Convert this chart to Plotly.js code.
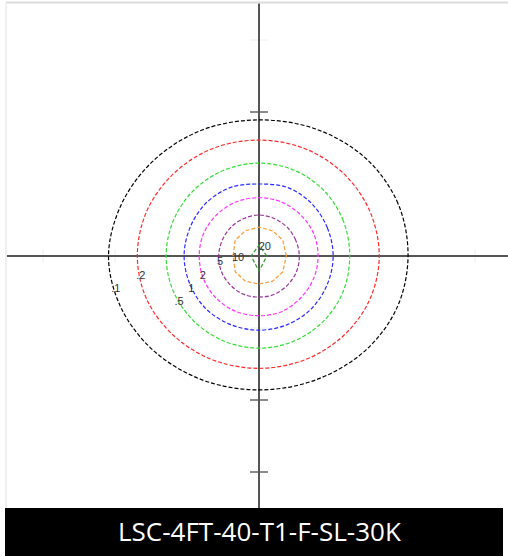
<!DOCTYPE html>
<html>
<head>
<meta charset="utf-8">
<script src="https://cdn.plot.ly/plotly-3.0.1.min.js"></script>
<style>html,body{margin:0;padding:0;background:#fff;}#chart{width:508px;height:557px;}</style>
</head>
<body>
<div id="chart"></div>
<script>
// Isofootcandle levels and colours
const levels = ['.1', '.2', '.5', '1', '2', '5', '10', '20'];
const colors = ['#000000', '#ff2a2a', '#33dd33', '#2a2aff', '#ff33ff', '#993399', '#ff9933', '#339933'];

// Contour outlines (units = mounting heights)
const c01x = [2.07, 1.93, 1.49, 0.80, 0.00, -0.79, -1.46, -1.91, -2.09, -1.92, -1.47, -0.79, 0.00, 0.79, 1.48, 1.92];
const c01y = [0.00, 0.73, 1.35, 1.76, 1.89, 1.75, 1.33, 0.72, 0.00, -0.71, -1.31, -1.72, -1.86, -1.72, -1.31, -0.71];
const c02x = [1.67, 1.54, 1.18, 0.64, 0.00, -0.65, -1.19, -1.56, -1.69, -1.56, -1.19, -0.65, 0.00, 0.64, 1.18, 1.54];
const c02y = [0.00, 0.62, 1.14, 1.49, 1.61, 1.49, 1.14, 0.62, 0.00, -0.60, -1.10, -1.44, -1.56, -1.44, -1.10, -0.60];
const c05x = [1.26, 1.17, 0.90, 0.49, 0.00, -0.49, -0.91, -1.19, -1.29, -1.19, -0.91, -0.49, 0.00, 0.49, 0.90, 1.17];
const c05y = [0.00, 0.49, 0.91, 1.19, 1.29, 1.19, 0.91, 0.49, 0.00, -0.49, -0.90, -1.18, -1.28, -1.18, -0.90, -0.49];
const c1x = [1.03, 0.95, 0.73, 0.40, 0.00, -0.40, -0.74, -0.96, -1.04, -0.96, -0.74, -0.40, 0.00, 0.40, 0.73, 0.95];
const c1y = [0.00, 0.39, 0.73, 0.95, 1.00, 0.95, 0.73, 0.39, 0.00, -0.39, -0.73, -0.95, -1.03, -0.95, -0.73, -0.39];
const c2x = [0.82, 0.76, 0.58, 0.31, 0.00, -0.32, -0.59, -0.77, -0.83, -0.77, -0.59, -0.32, 0.00, 0.32, 0.58, 0.76];
const c2y = [0.00, 0.31, 0.57, 0.75, 0.81, 0.75, 0.57, 0.31, 0.00, -0.32, -0.59, -0.77, -0.83, -0.77, -0.58, -0.31];
const c5x = [0.56, 0.51, 0.39, 0.21, 0.00, -0.21, -0.39, -0.51, -0.56, -0.52, -0.40, -0.22, 0.00, 0.22, 0.40, 0.52];
const c5y = [0.00, 0.22, 0.40, 0.52, 0.57, 0.52, 0.40, 0.22, 0.00, -0.22, -0.40, -0.53, -0.57, -0.53, -0.40, -0.22];
const c10x = [0.38, 0.33, 0.19, 0.00, -0.19, -0.33, -0.36, -0.33, -0.19, 0.00, 0.19, 0.33];
const c10y = [0.00, 0.22, 0.35, 0.40, 0.35, 0.22, 0.00, -0.22, -0.35, -0.39, -0.35, -0.22];
const c20x = [0.11, 0.00, -0.11, 0.00];
const c20y = [0.00, 0.15, 0.00, -0.21];

// Value label positions
const labelX = [-1.99, -1.64, -1.11, -0.94, -0.78, -0.54, -0.29, 0.08];
const labelY = [-0.46, -0.28, -0.64, -0.46, -0.28, -0.08, -0.03, 0.12];

// Axis tick positions (mounting heights)
const ticks = [-3, -2, -1, 1, 2, 3];
const strongYTicks = [-3, -2, 2];

const title = 'LSC-4FT-40-T1-F-SL-30K';

const contoursX = [c01x, c02x, c05x, c1x, c2x, c5x, c10x, c20x];
const contoursY = [c01y, c02y, c05y, c1y, c2y, c5y, c10y, c20y];

const traces = [];
// ticks
ticks.forEach(t => {
  traces.push({x: [t, t], y: [-0.1, 0.1], mode: 'lines', line: {color: '#eeeeee', width: 1}, hoverinfo: 'skip'});
  const strong = strongYTicks.indexOf(t) >= 0;
  traces.push({x: [-0.125, 0.125], y: [t, t], mode: 'lines', line: {color: strong ? '#666' : '#eeeeee', width: strong ? 1.5 : 1}, hoverinfo: 'skip'});
});
// crosshair
traces.push({x: [-3.5, 3.46], y: [0, 0], mode: 'lines', line: {color: '#555', width: 2}, hoverinfo: 'skip'});
traces.push({x: [0, 0], y: [3.51, -3.5], mode: 'lines', line: {color: '#555', width: 2}, hoverinfo: 'skip'});
// contours
contoursX.forEach((cx, i) => {
  const cy = contoursY[i];
  const poly = i >= 6;
  traces.push({
    x: cx.concat([cx[0]]), y: cy.concat([cy[0]]), mode: 'lines',
    line: {color: colors[i], width: 1.2, dash: '4px,2px', shape: poly ? 'linear' : 'spline', smoothing: 1},
    hoverinfo: 'skip'
  });
});
// labels
traces.push({x: labelX, y: labelY, mode: 'text', text: levels, textfont: {family: 'Liberation Sans, Arial', size: 11, color: '#333'}, hoverinfo: 'skip'});

const layout = {
  width: 508, height: 557,
  margin: {l: 0, r: 0, t: 0, b: 0},
  paper_bgcolor: '#fff', plot_bgcolor: '#fff',
  showlegend: false,
  xaxis: {range: [-259/72, 249/72], visible: false, fixedrange: true},
  yaxis: {range: [-301/72, 256/72], visible: false, fixedrange: true},
  shapes: [
    {type: 'line', xref: 'paper', yref: 'paper', x0: 6/508, x1: 1, y0: 1 - 2.5/557, y1: 1 - 2.5/557, line: {color: '#dcdcdc', width: 2}},
    {type: 'line', xref: 'paper', yref: 'paper', x0: 6/508, x1: 6/508, y0: 1 - 3/557, y1: 1 - 509/557, line: {color: '#f0f0f0', width: 2}},
    {type: 'rect', xref: 'paper', yref: 'paper', x0: 5/508, x1: 503/508, y0: 1 - 556/557, y1: 1 - 508/557, fillcolor: '#000', line: {width: 0}}
  ],
  annotations: [
    {text: title, xref: 'paper', yref: 'paper', x: 259.5/508, y: 1 - 531/557, xanchor: 'center', yanchor: 'middle', showarrow: false, font: {family: 'Open Sans', size: 26, color: '#fff'}}
  ]
};

Plotly.newPlot('chart', traces, layout, {displayModeBar: false, staticPlot: true});
</script>
</body>
</html>
